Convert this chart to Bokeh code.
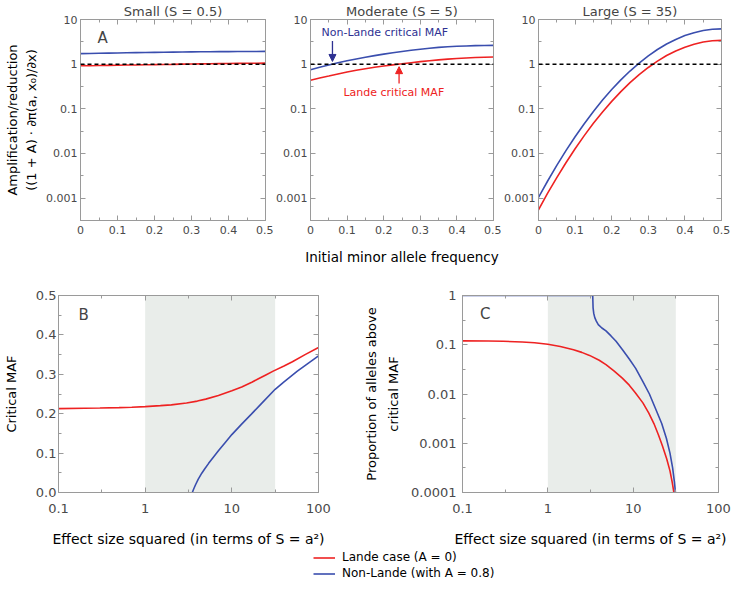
from bokeh.plotting import figure
from bokeh.layouts import column, row
from bokeh.models import (Range1d, FixedTicker, LinearAxis, LogAxis, Span, BoxAnnotation,
                          Label, Arrow, NormalHead, Legend, LegendItem, CustomJSTickFormatter,
                          CustomLabelingPolicy)
from bokeh.embed import file_html
from bokeh.resources import INLINE

FONT = "DejaVu Sans"
RED = "#ee2222"
BLUE = "#3a4eae"
BLUE_TEXT = "#2e3192"
TICK_TEXT = "#4a4a4a"
FRAME = "#9a9a9a"
SHADE = "#e9edea"

# ---------------- Panel A data (amplification vs initial MAF) ----------------
maf = [0.0, 0.025, 0.05, 0.075, 0.1, 0.125, 0.15, 0.175, 0.2, 0.225, 0.25,
       0.275, 0.3, 0.325, 0.35, 0.375, 0.4, 0.425, 0.45, 0.475, 0.5]
small_lande = [0.92, 0.925, 0.93, 0.94, 0.945, 0.955, 0.96, 0.97, 0.975, 0.985, 0.99,
               1.0, 1.005, 1.015, 1.02, 1.03, 1.035, 1.04, 1.045, 1.05, 1.055]
small_nonlande = [1.72, 1.735, 1.75, 1.765, 1.78, 1.795, 1.81, 1.82, 1.835, 1.845, 1.86,
                  1.87, 1.88, 1.89, 1.895, 1.905, 1.91, 1.915, 1.92, 1.925, 1.93]
moderate_lande = [0.437, 0.490, 0.543, 0.603, 0.668, 0.733, 0.791, 0.851, 0.908, 0.966, 1.019,
                  1.079, 1.140, 1.194, 1.245, 1.294, 1.340, 1.377, 1.406, 1.429, 1.445]
moderate_nonlande = [0.750, 0.851, 0.955, 1.072, 1.189, 1.309, 1.429, 1.556, 1.679, 1.803, 1.928,
                     2.046, 2.163, 2.270, 2.371, 2.449, 2.512, 2.559, 2.600, 2.618, 2.630]
large_lande = [0.00055, 0.00129, 0.00289, 0.00621, 0.0128, 0.0251, 0.0473, 0.0853, 0.147, 0.243, 0.385,
               0.582, 0.843, 1.17, 1.56, 1.98, 2.40, 2.80, 3.13, 3.34, 3.41]
large_nonlande = [0.00104, 0.00242, 0.00540, 0.01156, 0.0237, 0.0465, 0.0871, 0.157, 0.270, 0.445, 0.702,
                  1.06, 1.53, 2.13, 2.82, 3.58, 4.36, 5.07, 5.65, 6.04, 6.17]

panel_titles = ["Small (S = 0.5)", "Moderate (S = 5)", "Large (S = 35)"]
maf_ticks = [0, 0.1, 0.2, 0.3, 0.4, 0.5]
maf_minor = [0.05, 0.15, 0.25, 0.35, 0.45]
amp_ticks = [0.001, 0.01, 0.1, 1, 10]
amp_minor = [0.000316, 0.00316, 0.0316, 0.316, 3.16]
amp_lo, amp_hi = 0.000316, 10
neutral = 1.0
crit_nonlande_moderate = 0.06
crit_lande_moderate = 0.242

# ---------------- Panel B data (critical MAF vs S) ----------------
S_B_lande = [0.1, 0.2, 0.3, 0.5, 0.7, 1, 1.5, 2, 3, 4, 5, 7, 10, 13, 17, 20, 25, 30, 40, 50, 70, 100]
critmaf_lande = [0.213, 0.214, 0.2145, 0.2155, 0.2165, 0.218, 0.2205, 0.2225, 0.227, 0.232, 0.237,
                 0.246, 0.258, 0.268, 0.28, 0.288, 0.299, 0.308, 0.321, 0.332, 0.35, 0.368]
S_B_nonlande = [3.5, 3.6, 3.8, 4.1, 4.5, 4.9, 5.4, 5.9, 7.0, 8.4, 10, 12.9, 16.8, 21.8, 31.6,
                40, 57, 100]
critmaf_nonlande = [0.0, 0.007, 0.019, 0.034, 0.049, 0.061, 0.074, 0.085, 0.106, 0.127, 0.147,
                    0.173, 0.199, 0.225, 0.262, 0.281, 0.308, 0.347]

# ---------------- Panel C data (proportion above critical MAF vs S) ----------------
S_C_lande = [0.1, 0.2, 0.3, 0.5, 0.7, 1, 1.4, 2, 2.5, 3.08, 4, 4.8, 6, 7.46, 9, 10.6, 13, 15.2,
             17.5, 19.8, 22, 24.7, 27, 28.7, 30]
prop_lande = [0.120, 0.1189, 0.1175, 0.1135, 0.1096, 0.1023, 0.0923, 0.0794, 0.070, 0.0608,
              0.0484, 0.0396, 0.0292, 0.0210, 0.0151, 0.01064, 0.0066, 0.00412, 0.00251, 0.00147,
              0.00089, 0.000486, 0.000275, 0.000161, 0.0001]
S_C_nonlande = [0.1, 3.36, 3.37, 3.39, 3.45, 3.55, 3.7, 3.9, 4.3, 4.8, 5.5, 6.3, 7.5, 9, 10.7,
                13, 15.5, 18, 21.6, 24.5, 27, 29, 30.5, 31.3]
prop_nonlande = [1, 1, 0.794, 0.562, 0.437, 0.355, 0.302, 0.257, 0.219, 0.191, 0.151, 0.1175,
                 0.0794, 0.0513, 0.0331, 0.0178, 0.01, 0.00537, 0.00251, 0.00126, 0.00063,
                 0.000316, 0.000158, 0.0001]

S_ticks = [0.1, 1, 10, 100]
S_minor = [0.316, 3.16, 31.6]
critmaf_ticks = [0.0, 0.1, 0.2, 0.3, 0.4, 0.5]
critmaf_minor = [0.05, 0.15, 0.25, 0.35, 0.45]
prop_ticks = [0.0001, 0.001, 0.01, 0.1, 1]
prop_minor = [0.000316, 0.00316, 0.0316, 0.316]
shade_lo, shade_hi = 1, 31.6

fmt_lin1 = CustomJSTickFormatter(code="return tick == 0 ? '0' : tick.toFixed(1);")
fmt_lin_b = CustomJSTickFormatter(code="return tick.toFixed(1);")
fmt_log = CustomJSTickFormatter(code="return tick >= 1 ? tick.toFixed(0) : String(Number(tick.toPrecision(1)));")
no_labels = CustomLabelingPolicy(code="return new indices.constructor(indices.size, 0);")


def style_axis(ax, ticks, minor, fmt, size, labels=True, standoff=3):
    ax.ticker = FixedTicker(ticks=ticks, minor_ticks=minor)
    ax.formatter = fmt
    ax.major_tick_in = 5
    ax.major_tick_out = 0
    ax.minor_tick_in = 3
    ax.minor_tick_out = 0
    ax.axis_line_color = FRAME
    ax.major_tick_line_color = FRAME
    ax.minor_tick_line_color = FRAME
    ax.major_label_text_font = FONT
    ax.major_label_text_color = TICK_TEXT
    ax.major_label_text_font_size = size
    ax.major_label_standoff = standoff
    ax.axis_label_text_font = FONT
    ax.axis_label_text_font_style = "normal"
    ax.axis_label_text_color = "black"
    if not labels:
        # mirrored frame ticks only: no labels drawn and no space reserved
        ax.major_label_policy = no_labels
        ax.major_label_text_font_size = "0px"
        ax.major_label_standoff = 0


def base_fig(w, h, bl, br, bt, bb, xr, yr, xlog, ylog):
    p = figure(width=w, height=h, x_range=xr, y_range=yr,
               x_axis_type="log" if xlog else "linear",
               y_axis_type="log" if ylog else "linear",
               output_backend="svg", toolbar_location=None,
               min_border_left=bl, min_border_right=br,
               min_border_top=bt, min_border_bottom=bb)
    p.xgrid.visible = False
    p.ygrid.visible = False
    p.outline_line_color = FRAME
    p.background_fill_color = "white"
    p.border_fill_color = "white"
    return p


def top_fig(title, w, bl, br, x_vals, lande, nonlande, ylabel=None, xlabel=None):
    p = base_fig(w, 282, bl, br, 18, 62, Range1d(0, 0.5), Range1d(amp_lo, amp_hi), False, True)
    p.title.text = title
    p.title.align = "center"
    p.title.text_font = FONT
    p.title.text_font_size = "13px"
    p.title.text_font_style = "normal"
    p.title.standoff = 2
    style_axis(p.xaxis[0], maf_ticks, maf_minor, fmt_lin1, "11px", standoff=5)
    style_axis(p.yaxis[0], amp_ticks, amp_minor, fmt_log, "11px", standoff=3)
    if ylabel:
        p.yaxis[0].axis_label = ylabel
        p.yaxis[0].axis_label_text_font_size = "13px"
        p.yaxis[0].axis_label_text_line_height = 1.3
        p.yaxis[0].axis_label_standoff = 4
    if xlabel:
        p.xaxis[0].axis_label = xlabel
        p.xaxis[0].axis_label_text_font_size = "13.5px"
        p.xaxis[0].axis_label_standoff = 12
    top = LinearAxis()
    style_axis(top, maf_ticks, maf_minor, fmt_lin1, "11px", labels=False)
    p.add_layout(top, "above")
    right = LogAxis()
    style_axis(right, amp_ticks, amp_minor, fmt_log, "11px", labels=False)
    p.add_layout(right, "right")
    p.line(x_vals, nonlande, line_color=BLUE, line_width=1.6)
    p.line(x_vals, lande, line_color=RED, line_width=1.6)
    p.add_layout(Span(location=neutral, dimension="width", line_color="black",
                      line_dash="4 3", line_width=1.5))
    return p


pA = top_fig(panel_titles[0], 273, 80, 8, maf, small_lande, small_nonlande,
             ylabel="Amplification/reduction\n((1 + A) \u00b7 \u2202\u03c0(a, x\u2080)/\u2202x)")
pM = top_fig(panel_titles[1], 228, 35, 8, maf, moderate_lande, moderate_nonlande,
             xlabel="Initial minor allele frequency")
pL = top_fig(panel_titles[2], 231, 35, 11, maf, large_lande, large_nonlande)

pA.add_layout(Label(x=0.046, y=3.8, text="A", text_font=FONT, text_font_size="15px",
                    text_baseline="middle", text_align="left"))

# annotations in the moderate panel
pM.add_layout(Label(x=0.03, y=5.2, text="Non-Lande critical MAF", text_font=FONT,
                    text_font_size="11px", text_color=BLUE_TEXT,
                    text_baseline="middle", text_align="left"))
pM.add_layout(Arrow(end=NormalHead(size=7, fill_color=BLUE_TEXT, line_color=BLUE_TEXT),
                    x_start=crit_nonlande_moderate, y_start=3.3,
                    x_end=crit_nonlande_moderate, y_end=1.15,
                    line_color=BLUE_TEXT, line_width=1.3))
pM.add_layout(Label(x=0.09, y=0.23, text="Lande critical MAF", text_font=FONT,
                    text_font_size="11px", text_color=RED,
                    text_baseline="middle", text_align="left"))
pM.add_layout(Arrow(end=NormalHead(size=7, fill_color=RED, line_color=RED),
                    x_start=crit_lande_moderate, y_start=0.37,
                    x_end=crit_lande_moderate, y_end=0.88,
                    line_color=RED, line_width=1.3))

# ---------------- Panel B ----------------
pB = base_fig(360, 268, 54, 42, 13, 58, Range1d(0.1, 100), Range1d(0, 0.5), True, False)
style_axis(pB.xaxis[0], S_ticks, S_minor, fmt_log, "13px", standoff=11)
style_axis(pB.yaxis[0], critmaf_ticks, critmaf_minor, fmt_lin_b, "13px", standoff=2)
pB.xaxis[0].axis_label = "Effect size squared (in terms of S = a\u00b2)"
pB.xaxis[0].axis_label_text_font_size = "14px"
pB.xaxis[0].axis_label_standoff = 15
pB.yaxis[0].axis_label = "Critical MAF"
pB.yaxis[0].axis_label_text_font_size = "13px"
pB.yaxis[0].axis_label_standoff = 14
tb = LogAxis()
style_axis(tb, S_ticks, S_minor, fmt_log, "13px", labels=False)
pB.add_layout(tb, "above")
rb = LinearAxis()
style_axis(rb, critmaf_ticks, critmaf_minor, fmt_lin_b, "13px", labels=False)
pB.add_layout(rb, "right")
pB.add_layout(BoxAnnotation(left=shade_lo, right=shade_hi, fill_color=SHADE, fill_alpha=1,
                            line_color=None, level="underlay"))
pB.line(S_B_lande, critmaf_lande, line_color=RED, line_width=1.6)
pB.line(S_B_nonlande, critmaf_nonlande, line_color=BLUE, line_width=1.6)
pB.add_layout(Label(x=0.17, y=0.451, text="B", text_font=FONT, text_font_size="15px",
                    text_baseline="middle", text_align="left"))

# ---------------- Panel C ----------------
pC = base_fig(372, 268, 100, 14, 13, 58, Range1d(0.1, 100), Range1d(0.0001, 1), True, True)
style_axis(pC.xaxis[0], S_ticks, S_minor, fmt_log, "13px", standoff=11)
style_axis(pC.yaxis[0], prop_ticks, prop_minor, fmt_log, "13px", standoff=6)
pC.xaxis[0].axis_label = "Effect size squared (in terms of S = a\u00b2)"
pC.xaxis[0].axis_label_text_font_size = "14px"
pC.xaxis[0].axis_label_standoff = 15
pC.yaxis[0].axis_label = "Proportion of alleles above\ncritical MAF"
pC.yaxis[0].axis_label_text_font_size = "13px"
pC.yaxis[0].axis_label_text_line_height = 1.5
pC.yaxis[0].axis_label_standoff = 7
tc = LogAxis()
style_axis(tc, S_ticks, S_minor, fmt_log, "13px", labels=False)
pC.add_layout(tc, "above")
rc = LogAxis()
style_axis(rc, prop_ticks, prop_minor, fmt_log, "13px", labels=False)
pC.add_layout(rc, "right")
pC.add_layout(BoxAnnotation(left=shade_lo, right=shade_hi, fill_color=SHADE, fill_alpha=1,
                            line_color=None, level="underlay"))
pC.line(S_C_lande, prop_lande, line_color=RED, line_width=1.6)
pC.line(S_C_nonlande, prop_nonlande, line_color=BLUE, line_width=1.6)
pC.add_layout(Label(x=0.16, y=0.43, text="C", text_font=FONT, text_font_size="15px",
                    text_baseline="middle", text_align="left"))

# ---------------- Legend (keys reuse panel-B series; data kept out of view) ----------------
leg = figure(width=732, height=34, output_backend="svg", toolbar_location=None,
             x_axis_location=None, y_axis_location=None, min_border=0,
             x_range=Range1d(1000, 1001), y_range=Range1d(1000, 1001))
leg.grid.visible = False
leg.outline_line_color = None
r1 = leg.line(S_B_lande, critmaf_lande, line_color=RED, line_width=1.6)
r2 = leg.line(S_B_nonlande, critmaf_nonlande, line_color=BLUE, line_width=1.6)
legend = Legend(items=[LegendItem(label="Lande case (A = 0)", renderers=[r1]),
                       LegendItem(label="Non-Lande (with A = 0.8)", renderers=[r2])],
                location=(313, 4), orientation="vertical")
legend.border_line_color = None
legend.background_fill_alpha = 0
legend.padding = 0
legend.margin = 0
legend.spacing = 2
legend.label_height = 13
legend.glyph_height = 13
legend.glyph_width = 22
legend.label_standoff = 7
legend.label_text_font = FONT
legend.label_text_font_size = "12px"
legend.label_text_color = "black"
leg.add_layout(legend)

layout = column(row(pA, pM, pL), row(pB, pC), leg)
open("out.html", "w").write(file_html(layout, INLINE))
